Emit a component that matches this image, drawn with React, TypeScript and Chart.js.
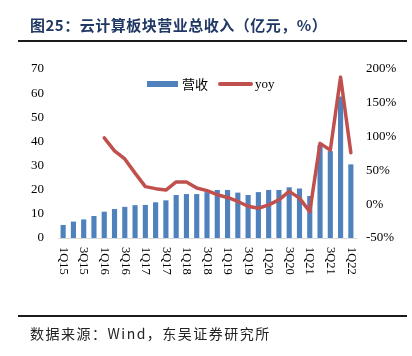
import React, { useEffect, useRef } from "react";
import { Chart, registerables } from "chart.js";

Chart.register(...registerables);

const categories = [
  "1Q15", "2Q15", "3Q15", "4Q15",
  "1Q16", "2Q16", "3Q16", "4Q16",
  "1Q17", "2Q17", "3Q17", "4Q17",
  "1Q18", "2Q18", "3Q18", "4Q18",
  "1Q19", "2Q19", "3Q19", "4Q19",
  "1Q20", "2Q20", "3Q20", "4Q20",
  "1Q21", "2Q21", "3Q21", "4Q21",
  "1Q22",
];

const revenue = [
  5.4, 6.8, 7.7, 9.1,
  10.9, 12.0, 12.9, 13.6,
  13.7, 14.8, 15.6, 17.8,
  18.2, 18.2, 19.0, 19.9,
  19.9, 18.8, 17.8, 19.0,
  19.9, 19.9, 21.0, 20.5,
  17.4, 38.5, 36.0, 58.6,
  30.5,
];

const yoy: (number | null)[] = [
  null, null, null, null,
  98, 79, 67, 46,
  26, 23, 21, 33,
  33, 24, 20, 14,
  10, 4, -3, -6,
  -1, 6.5, 19, 9,
  -11, 90, 80, 188,
  76,
];

const leftTicks = { min: 0, max: 70, step: 10 };
const rightTicks = { min: -50, max: 200, step: 50 };

const title = "图25：云计算板块营业总收入（亿元，%）";
const source = "数据来源：Wind，东吴证券研究所";
const legendBar = "营收";
const legendLine = "yoy";

const BAR_COLOR = "#4f81bd";
const LINE_COLOR = "#c0504d";

const rotatedLabels = {
  id: "rotatedLabels",
  afterDraw(chart: any) {
    const ctx = chart.ctx;
    const xScale = chart.scales.x;
    ctx.save();
    ctx.font = "12.5px 'Liberation Serif', 'DejaVu Serif', serif";
    ctx.fillStyle = "#000";
    ctx.textAlign = "left";
    ctx.textBaseline = "middle";
    categories.forEach((c, i) => {
      if (i % 2 !== 0) return;
      const x = xScale.getPixelForValue(i);
      ctx.save();
      ctx.translate(x, xScale.top + 9);
      ctx.rotate(Math.PI / 2);
      ctx.fillText(c, 0, 0);
      ctx.restore();
    });
    ctx.restore();
  },
};

export default function App() {
  const ref = useRef<HTMLCanvasElement | null>(null);

  useEffect(() => {
    document.body.style.margin = "0";
    if (!ref.current) return;
    const chart = new Chart(ref.current, {
      type: "bar",
      data: {
        labels: categories,
        datasets: [
          {
            type: "line",
            label: legendLine,
            data: yoy,
            yAxisID: "y1",
            borderColor: LINE_COLOR,
            backgroundColor: LINE_COLOR,
            borderWidth: 3.5,
            borderJoinStyle: "round",
            borderCapStyle: "round",
            pointRadius: 0,
            tension: 0,
            spanGaps: false,
            order: 0,
          } as any,
          {
            type: "bar",
            label: legendBar,
            data: revenue,
            yAxisID: "y",
            backgroundColor: BAR_COLOR,
            barPercentage: 0.5,
            categoryPercentage: 1,
            order: 1,
          } as any,
        ],
      },
      plugins: [rotatedLabels],
      options: {
        responsive: false,
        animation: false,
        devicePixelRatio: 1,
        layout: { padding: { top: 69, left: 0, right: 0, bottom: 0 } },
        plugins: {
          legend: { display: false },
          tooltip: { enabled: false },
          title: { display: false },
        },
        scales: {
          x: {
            offset: true,
            grid: { display: false },
            border: { display: true, color: "#d9d9d9", width: 1 },
            ticks: { display: false },
            afterFit(scale: any) {
              scale.height = 118;
            },
          },
          y: {
            position: "left",
            min: leftTicks.min,
            max: leftTicks.max,
            grid: { display: false, drawTicks: false },
            border: { display: false },
            ticks: {
              stepSize: leftTicks.step,
              padding: 14,
              color: "#000",
              font: { family: "'Liberation Serif', 'DejaVu Serif', serif", size: 13 },
            },
            afterFit(scale: any) {
              scale.width = 58;
            },
          },
          y1: {
            position: "right",
            min: rightTicks.min,
            max: rightTicks.max,
            grid: { display: false, drawTicks: false },
            border: { display: false },
            ticks: {
              stepSize: rightTicks.step,
              padding: 10,
              color: "#000",
              font: { family: "'Liberation Serif', 'DejaVu Serif', serif", size: 13 },
              callback: (v: any) => `${v}%`,
            },
            afterFit(scale: any) {
              scale.width = 56;
            },
          },
        },
      } as any,
    });
    return () => chart.destroy();
  }, []);

  return (
    <div style={{ position: "absolute", left: 0, top: 0, width: 412, height: 356, background: "#fff", overflow: "hidden" }}>
      <canvas ref={ref} width={412} height={356} style={{ position: "absolute", left: 0, top: 0, width: 412, height: 356 }} />
      <div
        style={{
          position: "absolute",
          left: 30,
          top: 15,
          fontFamily: "'Noto Sans CJK SC', sans-serif",
          fontWeight: 700,
          fontSize: 15,
          lineHeight: "20px",
          color: "#203864",
          whiteSpace: "nowrap",
          letterSpacing: 0.5,
        }}
      >
        {title}
      </div>
      <div style={{ position: "absolute", left: 18, top: 40, width: 389, height: 2, background: "#1a1a1a" }} />
      <div style={{ position: "absolute", left: 147, top: 81, width: 31, height: 6, background: BAR_COLOR }} />
      <div
        style={{
          position: "absolute",
          left: 182,
          top: 75,
          fontFamily: "'Noto Sans CJK SC', sans-serif",
          fontSize: 13,
          lineHeight: "18px",
          color: "#000",
          whiteSpace: "nowrap",
        }}
      >
        {legendBar}
      </div>
      <div style={{ position: "absolute", left: 218, top: 82, width: 35, height: 4, background: LINE_COLOR, borderRadius: 2 }} />
      <div
        style={{
          position: "absolute",
          left: 255,
          top: 75,
          fontFamily: "'Liberation Serif', serif",
          fontSize: 13,
          lineHeight: "18px",
          color: "#000",
          whiteSpace: "nowrap",
        }}
      >
        {legendLine}
      </div>
      <div style={{ position: "absolute", left: 18, top: 315, width: 389, height: 2, background: "#1a1a1a" }} />
      <div
        style={{
          position: "absolute",
          left: 30,
          top: 323,
          fontFamily: "'Noto Sans CJK SC', sans-serif",
          fontSize: 14,
          lineHeight: "20px",
          color: "#222",
          whiteSpace: "nowrap",
          letterSpacing: 1.5,
        }}
      >
        {source}
      </div>
    </div>
  );
}
